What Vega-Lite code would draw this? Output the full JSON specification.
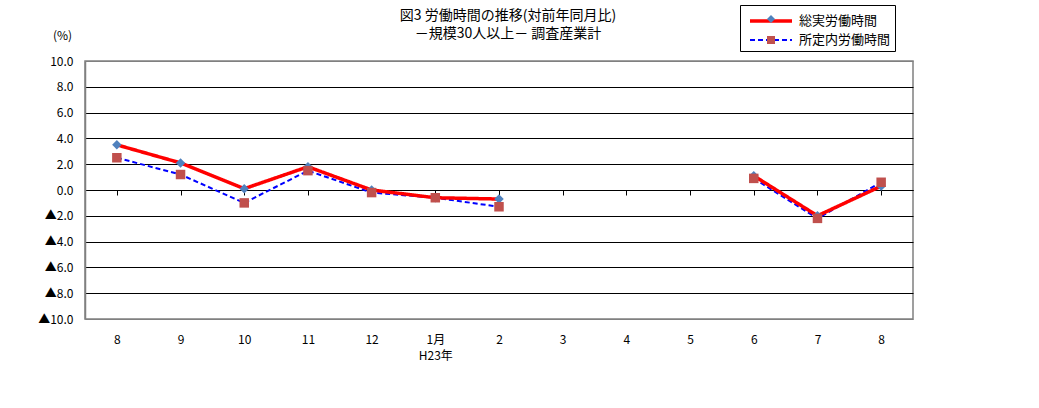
{
  "$schema": "https://vega.github.io/schema/vega-lite/v6.json",
  "autosize": {"type": "none"},
  "width": 828,
  "height": 258,
  "padding": {"left": 85, "top": 61, "right": 126, "bottom": 89},
  "background": "white",
  "config": {
    "font": "Noto Sans CJK JP",
    "view": {"stroke": "#808080", "strokeWidth": 1.5},
    "axis": {"labelFont": "Noto Sans CJK JP", "titleFont": "Noto Sans CJK JP"},
    "legend": {"labelFont": "Noto Sans CJK JP"}
  },
  "title": {
    "text": ["図3 労働時間の推移(対前年同月比)", "－規模30人以上－ 調査産業計"],
    "anchor": "middle",
    "frame": "group",
    "dx": 9,
    "offset": -36,
    "fontSize": 14,
    "fontWeight": "normal",
    "font": "Noto Sans CJK JP",
    "color": "black",
    "lineHeight": 18
  },
  "data": {
    "values": [
      {"month": "2010-08", "series": "所定内労働時間", "value": 2.5},
      {"month": "2010-09", "series": "所定内労働時間", "value": 1.2},
      {"month": "2010-10", "series": "所定内労働時間", "value": -1.0},
      {"month": "2010-11", "series": "所定内労働時間", "value": 1.5},
      {"month": "2010-12", "series": "所定内労働時間", "value": -0.2},
      {"month": "2011-01", "series": "所定内労働時間", "value": -0.6},
      {"month": "2011-02", "series": "所定内労働時間", "value": -1.3},
      {"month": "2011-03", "series": "所定内労働時間", "value": null},
      {"month": "2011-04", "series": "所定内労働時間", "value": null},
      {"month": "2011-05", "series": "所定内労働時間", "value": null},
      {"month": "2011-06", "series": "所定内労働時間", "value": 0.9},
      {"month": "2011-07", "series": "所定内労働時間", "value": -2.2},
      {"month": "2011-08", "series": "所定内労働時間", "value": 0.6},
      {"month": "2010-08", "series": "総実労働時間", "value": 3.5},
      {"month": "2010-09", "series": "総実労働時間", "value": 2.1},
      {"month": "2010-10", "series": "総実労働時間", "value": 0.1},
      {"month": "2010-11", "series": "総実労働時間", "value": 1.8},
      {"month": "2010-12", "series": "総実労働時間", "value": 0.0},
      {"month": "2011-01", "series": "総実労働時間", "value": -0.6},
      {"month": "2011-02", "series": "総実労働時間", "value": -0.7},
      {"month": "2011-03", "series": "総実労働時間", "value": null},
      {"month": "2011-04", "series": "総実労働時間", "value": null},
      {"month": "2011-05", "series": "総実労働時間", "value": null},
      {"month": "2011-06", "series": "総実労働時間", "value": 1.1},
      {"month": "2011-07", "series": "総実労働時間", "value": -2.0},
      {"month": "2011-08", "series": "総実労働時間", "value": 0.3}
    ]
  },
  "encoding": {
    "x": {
      "field": "month",
      "type": "ordinal",
      "scale": {
        "domain": ["2010-08","2010-09","2010-10","2010-11","2010-12","2011-01","2011-02","2011-03","2011-04","2011-05","2011-06","2011-07","2011-08"],
        "paddingInner": 0,
        "paddingOuter": 0
      }
    },
    "y": {
      "field": "value",
      "type": "quantitative",
      "scale": {"domain": [-10, 10], "nice": false, "zero": false},
      "axis": {
        "title": "(%)",
        "titleAngle": 0,
        "titleX": -23,
        "titleY": -26,
        "titleAlign": "center",
        "titleBaseline": "middle",
        "titleFontSize": 12,
        "titleFontWeight": "normal",
        "titleColor": "black",
        "values": [-10, -8, -6, -4, -2, 0, 2, 4, 6, 8, 10],
        "labelExpr": "datum.value < 0 ? '▲' + format(-datum.value, '.1f') : format(datum.value, '.1f')",
        "labelFontSize": 12,
        "labelColor": "black",
        "labelPadding": 12,
        "ticks": false,
        "domain": true,
        "domainColor": "#808080",
        "domainWidth": 1.5,
        "grid": true,
        "gridColor": {"condition": {"test": "abs(datum.value) == 10", "value": "#808080"}, "value": "black"},
        "gridWidth": 1,
        "gridOpacity": 1
      }
    }
  },
  "layer": [
    {
      "mark": {"type": "line", "invalid": "break-paths-show-domains"},
      "encoding": {
        "x": {
          "field": "month",
          "type": "ordinal",
          "axis": {
            "title": null,
            "orient": "bottom",
            "labelAngle": 0,
            "labelExpr": "datum.value == '2011-01' ? ['1月', 'H23年'] : '' + toNumber(slice(datum.value, 5))",
            "labelFontSize": 12,
            "labelColor": "black",
            "labelPadding": 15,
            "labelLineHeight": 16,
            "labelBaseline": "top",
            "ticks": false,
            "domain": false,
            "grid": false
          }
        },
        "stroke": {
          "field": "series",
          "type": "nominal",
          "scale": {"domain": ["総実労働時間", "所定内労働時間"], "range": ["#FF0000", "#0000FF"]},
          "legend": {
            "title": null,
            "orient": "none",
            "legendX": 655,
            "legendY": -56,
            "padding": 4,
            "strokeColor": "black",
            "fillColor": "white",
            "symbolType": "M-0.6,0L3.6,0",
            "symbolSize": 400,
            "labelOffset": 31,
            "labelFontSize": 13,
            "labelColor": "black",
            "rowPadding": 1
          }
        },
        "strokeDash": {
          "field": "series",
          "type": "nominal",
          "scale": {"domain": ["総実労働時間", "所定内労働時間"], "range": [[1, 0], [5, 3]]}
        },
        "strokeWidth": {
          "field": "series",
          "type": "nominal",
          "scale": {"domain": ["総実労働時間", "所定内労働時間"], "range": [3.5, 2]}
        }
      }
    },
    {
      "mark": {"type": "point", "filled": true, "opacity": 1, "size": 90},
      "encoding": {
        "x": {
          "field": "month",
          "type": "ordinal",
          "axis": {
            "title": null,
            "orient": "bottom",
            "offset": -129,
            "bandPosition": 0,
            "labels": false,
            "ticks": true,
            "tickSize": 5,
            "tickColor": "black",
            "domain": true,
            "domainColor": "black",
            "grid": false
          }
        },
        "color": {
          "field": "series",
          "type": "nominal",
          "scale": {"domain": ["総実労働時間", "所定内労働時間"], "range": ["#4F81BD", "#C0504D"]},
          "legend": {
            "title": null,
            "orient": "none",
            "legendX": 676,
            "legendY": -52,
            "padding": 0,
            "strokeColor": null,
            "symbolSize": 64,
            "labelExpr": "''",
            "labelFontSize": 20,
            "rowPadding": 1,
            "symbolOpacity": 1
          }
        },
        "shape": {
          "field": "series",
          "type": "nominal",
          "scale": {"domain": ["総実労働時間", "所定内労働時間"], "range": ["diamond", "square"]}
        },
        "order": {"field": "series", "sort": "descending"}
      }
    }
  ],
  "resolve": {
    "axis": {"x": "independent"},
    "scale": {"color": "independent", "shape": "independent"},
    "legend": {"color": "independent", "shape": "independent"}
  }
}
